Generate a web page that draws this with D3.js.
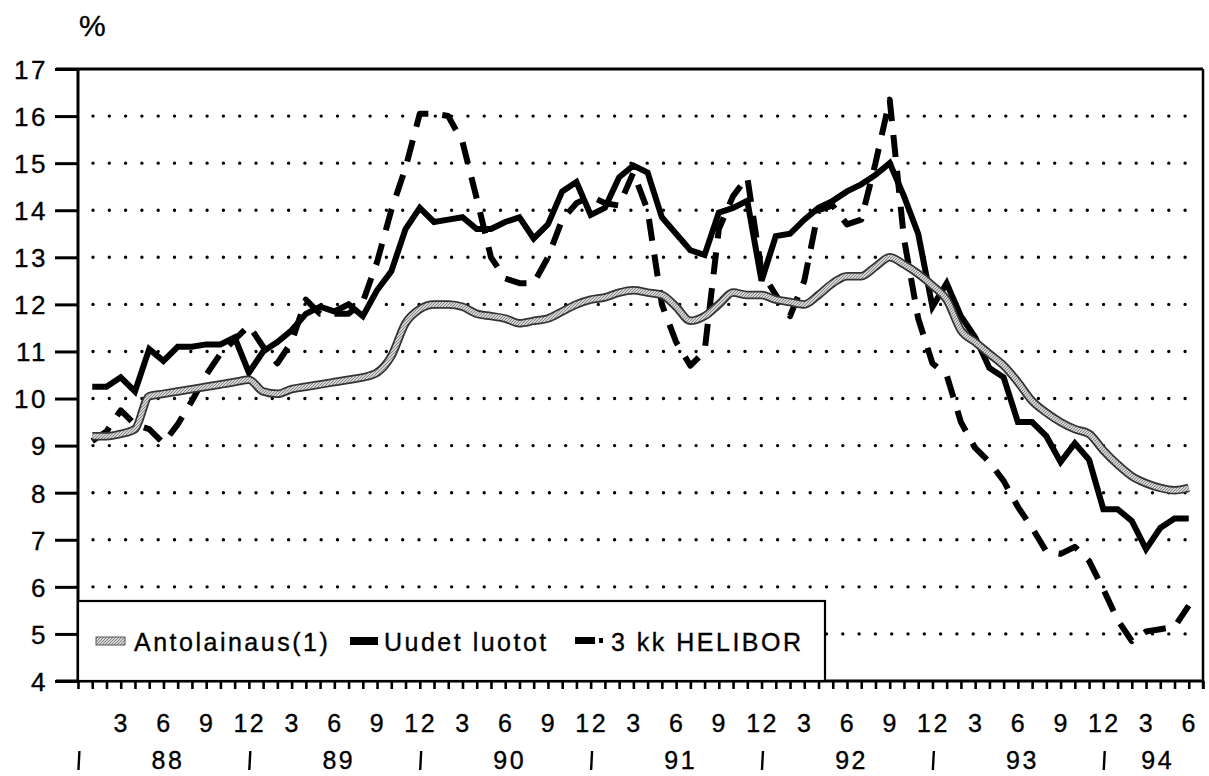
<!DOCTYPE html>
<html>
<head>
<meta charset="utf-8">
<script src="https://cdn.jsdelivr.net/npm/d3@7/dist/d3.min.js"></script>
<style>
body { margin:0; background:#fff; }
text { font-family:"Liberation Sans", Arial, Helvetica, sans-serif; font-size:25px; letter-spacing:2.5px; fill:#000; stroke:#000; stroke-width:0.35px; }
</style>
</head>
<body>
<div id="chart-container"></div>
<script>
// monthly values, Jan 1988 .. Jun 1994
var yTicks = [4,5,6,7,8,9,10,11,12,13,14,15,16,17]
var monthTicks = [3,6,9,12]
var years = ['88','89','90','91','92','93','94']
var seriesNames = ['Antolainaus(1)', 'Uudet luotot', '3 kk HELIBOR']

var antolainaus = [9.2,9.2,9.25,9.35,10.05,10.1,10.15,10.2,10.25,10.3,10.35,10.4,
  10.15,10.1,10.2,10.25,10.3,10.35,10.4,10.45,10.55,10.9,11.6,11.9,
  12.0,12.0,11.95,11.8,11.75,11.7,11.6,11.65,11.7,11.85,12.0,12.1,
  12.15,12.25,12.3,12.25,12.2,11.95,11.65,11.75,12.0,12.25,12.2,12.2,
  12.1,12.05,12.0,12.2,12.45,12.6,12.6,12.8,13.0,12.85,12.65,12.4,
  12.1,11.45,11.2,10.95,10.7,10.35,9.95,9.7,9.5,9.35,9.25,8.9,
  8.6,8.35,8.2,8.1,8.05,8.1]

var uudetLuotot = [10.25,10.25,10.45,10.15,11.05,10.8,11.1,11.1,11.15,11.15,11.3,10.55,
  11.0,11.2,11.45,11.8,11.95,11.85,12.0,11.75,12.3,12.7,13.6,14.05,
  13.75,13.8,13.85,13.6,13.6,13.75,13.85,13.4,13.7,14.4,14.6,13.9,
  14.05,14.7,14.95,14.8,13.85,13.5,13.15,13.05,13.95,14.05,14.2,12.5,
  13.45,13.5,13.8,14.05,14.2,14.4,14.55,14.75,15.0,14.3,13.5,11.95,
  12.45,11.75,11.3,10.65,10.45,9.5,9.5,9.2,8.65,9.05,8.7,7.65,
  7.65,7.4,6.8,7.25,7.45,7.45]

var helibor = [9.1,9.3,9.75,9.45,9.35,9.05,9.45,9.95,10.5,10.95,11.25,11.55,
  11.1,10.75,11.2,12.1,11.8,11.8,11.8,12.05,12.9,14.0,14.9,16.05,
  16.05,16.0,15.45,14.25,13.0,12.55,12.45,12.45,13.0,13.8,14.15,14.3,
  14.15,14.1,14.8,14.0,12.0,11.2,10.7,11.0,13.6,14.3,14.7,12.7,
  12.2,11.75,12.5,14.0,14.1,13.7,13.8,15.0,16.35,13.4,11.7,10.75,
  10.5,9.5,8.95,8.65,8.25,7.7,7.25,6.75,6.7,6.85,6.55,5.95,
  5.3,4.85,5.05,5.1,5.15,5.6]

var width = 1209, height = 776
var pLeft = 78, pRight = 1203, pTop = 69, pBottom = 681
var nMonths = antolainaus.length

var svg = d3.select("#chart-container").append("svg").attr("width", width).attr("height", height).attr("id","chart-korot")
svg.append("rect").attr("width", width).attr("height", height).attr("fill","#fff")

var defs = svg.append("defs")
var pat = defs.append("pattern").attr("id","hatch").attr("patternUnits","userSpaceOnUse").attr("width",3).attr("height",3)
pat.append("rect").attr("width",3).attr("height",3).attr("fill","#d4d4d4")
pat.append("path").attr("d","M0,3 L3,0").attr("stroke","#7a7a7a").attr("stroke-width",0.9)

var x = d3.scaleLinear().domain([0, nMonths + 1]).range([pLeft, pRight])
var y = d3.scaleLinear().domain([4, 17]).range([pBottom, pTop])

// dotted gridlines
svg.selectAll(".grid").data(yTicks.filter(function(d){ return d > 4 && d < 17 })).enter().append("line")
  .attr("class","grid")
  .attr("x1", pLeft + 15).attr("x2", pRight - 2)
  .attr("y1", function(d){ return y(d) }).attr("y2", function(d){ return y(d) })
  .attr("stroke","#000").attr("stroke-width",3.4).attr("stroke-linecap","round").attr("stroke-dasharray","0,16.3")

// y axis
var yAxis = d3.axisLeft(y).tickValues(yTicks).tickSize(23).tickPadding(7)
var gy = svg.append("g").attr("transform","translate(" + pLeft + ",0)").call(yAxis)
gy.select(".domain").remove()
gy.selectAll(".tick line").attr("stroke","#000").attr("stroke-width",3)
gy.selectAll(".tick text").attr("font-size",null).attr("font-family",null).style("font-size","26px").attr("dy","0.36em")

// x axis month ticks
var xAxis = d3.axisBottom(x).tickValues(d3.range(0, nMonths + 2)).tickSize(8).tickFormat("")
var gx = svg.append("g").attr("transform","translate(0," + pBottom + ")").call(xAxis)
gx.select(".domain").remove()
gx.selectAll(".tick line").attr("stroke","#000").attr("stroke-width",2.6)

// frame
svg.append("line").attr("x1",56).attr("x2",pRight).attr("y1",pTop).attr("y2",pTop).attr("stroke","#000").attr("stroke-width",3)
svg.append("line").attr("x1",56).attr("x2",pRight).attr("y1",pBottom).attr("y2",pBottom).attr("stroke","#000").attr("stroke-width",3)
svg.append("line").attr("x1",pLeft).attr("x2",pLeft).attr("y1",pTop).attr("y2",pBottom).attr("stroke","#000").attr("stroke-width",3)
svg.append("line").attr("x1",pRight).attr("x2",pRight).attr("y1",pTop).attr("y2",pBottom + 8).attr("stroke","#000").attr("stroke-width",2.5)

// month labels
var monthPos = []
years.forEach(function(yr, k) {
  monthTicks.forEach(function(m) {
    if (k * 12 + m <= nMonths) monthPos.push({i: k * 12 + m, label: m})
  })
})
svg.selectAll(".mlabel").data(monthPos).enter().append("text").attr("class","mlabel")
  .attr("x", function(d){ return x(d.i) + 1 }).attr("y", 732).attr("text-anchor","middle")
  .text(function(d){ return d.label })

// year labels and separators
years.forEach(function(yr, k) {
  var start = k * 12
  var end = Math.min(start + 12, nMonths + 1)
  svg.append("text").attr("x", x((start + end) / 2 + 0.25) + 1).attr("y", 769).attr("text-anchor","middle").text(yr)
  svg.append("line").attr("x1", x(start + 0.1)).attr("x2", x(start + 0.1) - 1).attr("y1", 751).attr("y2", 770)
    .attr("stroke","#000").attr("stroke-width",2.4)
})

// % label
svg.append("text").attr("x", 79).attr("y", 36).style("font-size","30px").text("%")

// series lines
var line = d3.line().x(function(d,i){ return x(i + 1) }).y(function(d){ return y(d) })
var smooth = d3.line().x(function(d,i){ return x(i + 1) }).y(function(d){ return y(d) }).curve(d3.curveMonotoneX)

svg.append("path").datum(helibor).attr("d", line).attr("fill","none").attr("stroke","#000")
  .attr("stroke-width",6).attr("stroke-dasharray","22,14").attr("stroke-linejoin","round")
svg.append("path").datum(uudetLuotot).attr("d", line).attr("fill","none").attr("stroke","#000")
  .attr("stroke-width",6).attr("stroke-linejoin","miter").attr("stroke-miterlimit",3)
svg.append("path").datum(antolainaus).attr("d", smooth).attr("fill","none").attr("stroke","#333").attr("stroke-width",8.5)
svg.append("path").datum(antolainaus).attr("d", smooth).attr("fill","none").attr("stroke","url(#hatch)").attr("stroke-width",5)

// legend
var lg = svg.append("g").attr("class","legend")
lg.append("rect").attr("x", pLeft).attr("y", 601).attr("width", 825 - pLeft).attr("height", pBottom - 601)
  .attr("fill","#fff").attr("stroke","#000").attr("stroke-width",2.2)
lg.append("rect").attr("x",96).attr("y",637).attr("width",29).attr("height",8).attr("fill","url(#hatch)").attr("stroke","#555").attr("stroke-width",1)
lg.append("text").attr("x",134).attr("y",651).text(seriesNames[0])
lg.append("rect").attr("x",350).attr("y",637).attr("width",28).attr("height",8).attr("fill","#000")
lg.append("text").attr("x",384).attr("y",651).text(seriesNames[1])
lg.append("rect").attr("x",575).attr("y",637).attr("width",20).attr("height",7).attr("fill","#000")
lg.append("rect").attr("x",599).attr("y",638).attr("width",4).attr("height",5).attr("fill","#000")
lg.append("text").attr("x",611).attr("y",651).text(seriesNames[2])
</script>
</body>
</html>
